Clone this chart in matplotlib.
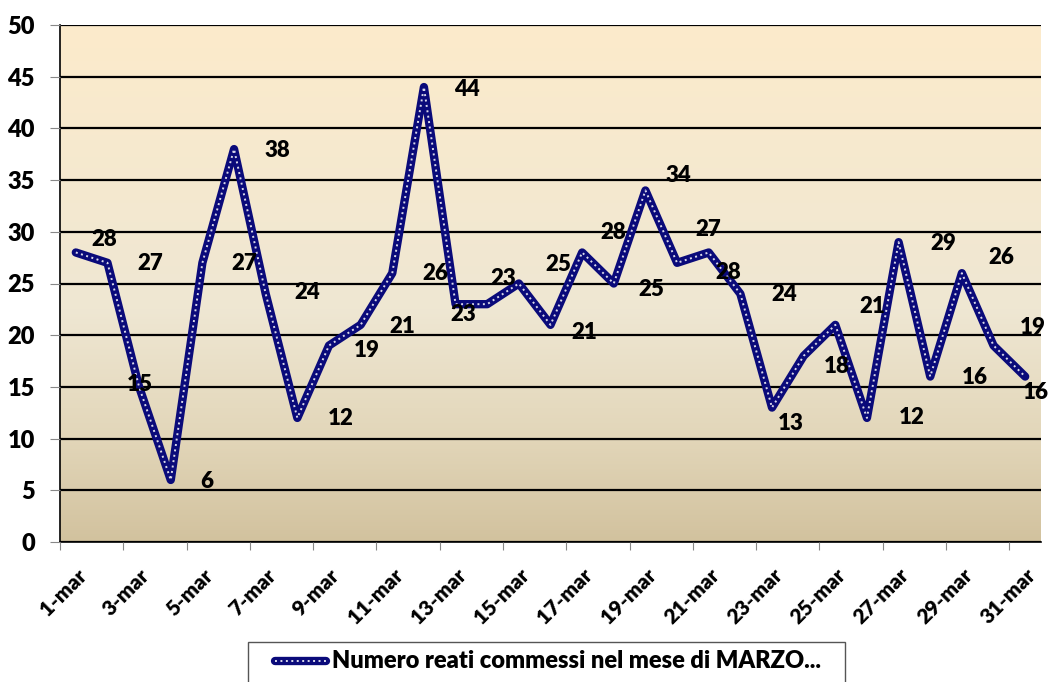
import matplotlib.pyplot as plt
import numpy as np
from matplotlib.colors import LinearSegmentedColormap
from matplotlib.lines import Line2D
from matplotlib.patches import Rectangle

plt.rcParams['font.family'] = ['Lato', 'DejaVu Sans']

days = list(range(1, 32))
reati = [28, 27, 15, 6, 27, 38, 24, 12, 19, 21, 26, 44, 23, 23, 25, 21,
         28, 25, 34, 27, 28, 24, 13, 18, 21, 12, 29, 16, 26, 19, 16]
tick_days = list(range(1, 32, 2))
tick_labels = ['%d-mar' % d for d in tick_days]
legend_label = 'Numero reati commessi nel mese di MARZO...'

# label offsets in pixels (as placed in the original chart)
lab_dx = [28, 43, 1, 36, 42, 43, 42, 43, 38, 42, 43, 43, 8, 16, 39, 34,
          31, 38, 33, 31, 20, 44, 19, 33, 37, 45, 45, 45, 39, 39, 11]
lab_dy = [-13, 1, -2, 2, 1, 1, -1, 1, 5, 2, 0, 2, 10, -26, -19, 8,
          -20, 6, -15, -33, 20, 1, 16, 11, -18, 0, 1, 1, -16, -18, 16]

W, H = 1050, 682
fig = plt.figure(figsize=(W / 100, H / 100), dpi=100)
ax = fig.add_axes([60 / W, 1 - 542 / H, 981 / W, 517 / H])

x = np.arange(len(days))
ax.set_xlim(-0.5, len(days) - 0.5)
ax.set_ylim(0, 50)

# gradient background
cmap = LinearSegmentedColormap.from_list(
    'bg', [(0, '#d2c29e'), (0.2, '#e2d6b9'), (0.45, '#efe7d3'), (1, '#fcebcb')])
grad = np.linspace(0, 1, 256).reshape(-1, 1)
ax.imshow(grad, cmap=cmap, origin='lower', aspect='auto',
          extent=(-0.5, len(days) - 0.5, 0, 50), zorder=0)

ax.set_yticks(range(0, 51, 5))
ax.grid(axis='y', color='black', linewidth=1.6, zorder=1)
ax.set_axisbelow(False)

line_kw = dict(color='#0a0a7a', linewidth=6.0, solid_joinstyle='round', solid_capstyle='round')
dots_kw = dict(color='white', linewidth=1.4, linestyle=(0, (1, 1.8)), alpha=0.85)
ax.plot(x, reati, zorder=3, **line_kw)
ax.plot(x, reati, zorder=4, **dots_kw)

for xi, v, dx, dy in zip(x, reati, lab_dx, lab_dy):
    ax.annotate(str(v), (xi, v), xytext=(dx, -dy), textcoords='offset pixels',
                ha='center', va='center', fontsize=16, fontweight='heavy', zorder=5)

# date ticks sit on the day boundaries, labels hang to the lower left
tick_pos = np.array(tick_days) - 1.5
ax.set_xticks(tick_pos)
ax.set_xticklabels([])
for tp, lab in zip(tick_pos, tick_labels):
    ax.annotate(lab, (tp, 0), xycoords=('data', 'axes fraction'), xytext=(23, -30),
                textcoords='offset pixels', rotation=45, ha='right', va='center',
                rotation_mode='anchor', fontsize=15, fontweight='heavy',
                annotation_clip=False)
ax.tick_params(axis='x', length=6, color='#888888')
ax.tick_params(axis='y', length=7, color='#888888', pad=11, labelsize=17)
for t in ax.get_yticklabels():
    t.set_fontweight('heavy')

for s in ['top', 'right']:
    ax.spines[s].set_visible(False)
ax.spines['left'].set_linewidth(1.2)
ax.spines['bottom'].set_linewidth(1.2)

# legend box (cut by the bottom edge, as in the original)
fig.patches.append(Rectangle((248 / W, -0.05), (845 - 248) / W, 0.05 + 1 - 642 / H,
                             transform=fig.transFigure, facecolor='white',
                             edgecolor='#555555', linewidth=1.0))
ly = 1 - 661 / H
fig.add_artist(Line2D([275 / W, 326 / W], [ly, ly], transform=fig.transFigure, **line_kw))
fig.add_artist(Line2D([275 / W, 326 / W], [ly, ly], transform=fig.transFigure, **dots_kw))
fig.text(332 / W, ly, legend_label, ha='left', va='center', fontsize=17, fontweight='heavy')

fig.savefig('out.png', dpi=100)
